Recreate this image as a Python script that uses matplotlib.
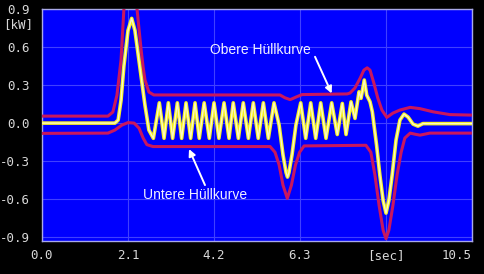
import matplotlib
matplotlib.use("Agg")
import matplotlib.pyplot as plt

# ---- data ----
sig_x = [0.0, 1.78, 1.86, 1.93, 2.0, 2.1, 2.19, 2.27, 2.39, 2.515, 2.61, 2.72,
         2.865, 2.98, 3.085, 3.19, 3.305, 3.41, 3.517, 3.63, 3.737, 3.84, 3.96, 4.085,
         4.20, 4.32, 4.445, 4.567, 4.67, 4.795, 4.915, 5.04, 5.16, 5.28, 5.405, 5.527, 5.665,
         5.79, 5.885, 5.96, 5.995, 6.03, 6.105, 6.2,
         6.318, 6.44, 6.562, 6.684, 6.806, 6.935, 7.074, 7.21, 7.333, 7.424,
         7.546, 7.643, 7.741, 7.79, 7.87, 7.93, 8.01, 8.066, 8.17,
         8.25, 8.33, 8.4, 8.47, 8.55, 8.645, 8.74, 8.84, 8.94, 9.06, 9.18, 9.3, 10.5]
sig_y = [0.0, 0.0, 0.024, 0.18, 0.45, 0.73, 0.826, 0.73, 0.44, 0.14, -0.055, -0.12,
         0.16, -0.12, 0.16, -0.12, 0.16, -0.12, 0.16, -0.12, 0.16, -0.12, 0.16, -0.12,
         0.16, -0.12, 0.16, -0.12, 0.16, -0.12, 0.16, -0.12, 0.16, -0.12, 0.16, -0.12, 0.16,
         -0.016, -0.25, -0.39, -0.426, -0.39, -0.25, -0.016,
         0.16, -0.12, 0.16, -0.12, 0.16, -0.12, 0.16, -0.09, 0.155, -0.09,
         0.168, 0.037, 0.247, 0.195, 0.34, 0.22, 0.168, 0.089, -0.174,
         -0.41, -0.61, -0.71, -0.61, -0.41, -0.134, 0.024, 0.071, 0.047, -0.008, -0.024, -0.004, -0.004]

upper_x = [0.0, 1.61, 1.73, 1.83, 1.93, 2.0, 2.16, 2.32, 2.42, 2.47, 2.515, 2.61, 2.73,
           5.81, 5.93, 6.06, 6.2, 6.35, 7.45, 7.52, 7.64, 7.77, 7.86, 7.94, 8.01, 8.1, 8.2,
           8.3, 8.42, 8.57, 8.74, 8.99, 9.23, 9.55, 9.96, 10.5]
upper_y = [0.055, 0.055, 0.087, 0.22, 0.5, 0.9, 1.08, 0.9, 0.58, 0.44, 0.34, 0.245, 0.222,
           0.222, 0.2, 0.185, 0.205, 0.225, 0.23, 0.237, 0.276, 0.355, 0.418, 0.436, 0.418, 0.32, 0.197,
           0.103, 0.045, 0.079, 0.103, 0.124, 0.114, 0.089, 0.067, 0.063]

lower_x = [0.0, 1.61, 1.78, 1.95, 2.1, 2.25, 2.37, 2.47, 2.56, 2.71,
           5.57, 5.69, 5.79, 5.885, 5.99, 6.09, 6.19, 6.29, 6.4,
           7.91, 8.03, 8.13, 8.23, 8.33, 8.4, 8.47, 8.57, 8.67, 8.77, 8.86, 8.99,
           9.1, 9.23, 9.47, 10.5]
lower_y = [-0.081, -0.079, -0.055, -0.016, 0.004, 0.0, -0.04, -0.118, -0.17, -0.185,
           -0.185, -0.23, -0.33, -0.49, -0.594, -0.49, -0.33, -0.23, -0.18,
           -0.175, -0.23, -0.41, -0.647, -0.845, -0.912, -0.845, -0.647, -0.41, -0.23, -0.118, -0.079,
           -0.087, -0.095, -0.079, -0.079]

x_ticks = [0.0, 2.1, 4.2, 6.3, 8.4, 10.5]
x_labels = ["0.0", "2.1", "4.2", "6.3", "[sec]", "10.5"]
y_ticks = [-0.9, -0.6, -0.3, 0.0, 0.3, 0.6, 0.9]
y_labels = ["-0.9", "-0.6", "-0.3", "0.0", "0.3", "0.6", "0.9"]

# ---- figure ----
fig = plt.figure(figsize=(4.85, 2.74), dpi=100, facecolor="black")
ax = fig.add_axes([42/485, 1-241/274, (472-42)/485, (241-9)/274])
ax.set_facecolor("#0000ff")

red = "#c8175e"
ax.plot(upper_x, upper_y, color=red, lw=2.2, solid_joinstyle="round", solid_capstyle="round", zorder=3)
ax.plot(lower_x, lower_y, color=red, lw=2.2, solid_joinstyle="round", solid_capstyle="round", zorder=3)
ax.plot(sig_x, sig_y, color="#f5f020", lw=2.6, solid_joinstyle="round", solid_capstyle="round", zorder=4)
ax.plot(sig_x, sig_y, color="#fbf8c8", lw=1.0, solid_joinstyle="round", solid_capstyle="round", zorder=5)

ax.set_xlim(0, 10.5)
ax.set_ylim(-0.93, 0.9)
ax.set_xticks(x_ticks)
ax.set_xticklabels(x_labels)
ax.set_yticks(y_ticks)
ax.set_yticklabels(y_labels)
ax.grid(True, color="#4040ff", lw=0.8)
ax.set_axisbelow(True)
for s in ax.spines.values():
    s.set_color("#a8a8e8")
    s.set_linewidth(1.0)

tick_color = "#d8d8d8"
ax.tick_params(axis="both", length=0, colors=tick_color, labelsize=9)
ax.tick_params(axis="y", pad=9)
ax.tick_params(axis="x", pad=6)
for lab in ax.get_xticklabels() + ax.get_yticklabels():
    lab.set_fontfamily("DejaVu Sans Mono")
ax.get_xticklabels()[-1].set_ha("right")

fig.text(33/485, 1-25/274, "[kW]", color=tick_color, fontsize=9, family="DejaVu Sans Mono",
         ha="right", va="center")

# annotations
ax.text(4.10, 0.576, "Obere Hüllkurve", color="#f0f0ff", fontsize=10, family="Liberation Sans",
        ha="left", va="center", zorder=6)
ax.annotate("", xy=(7.074, 0.234), xytext=(6.667, 0.523),
            arrowprops=dict(arrowstyle="-|>", color="white", lw=1.4, mutation_scale=10,
                            shrinkA=0, shrinkB=0), zorder=6)
ax.text(2.47, -0.568, "Untere Hüllkurve", color="#f0f0ff", fontsize=10, family="Liberation Sans",
        ha="left", va="center", zorder=6)
ax.annotate("", xy=(3.59, -0.205), xytext=(3.98, -0.489),
            arrowprops=dict(arrowstyle="-|>", color="white", lw=1.4, mutation_scale=10,
                            shrinkA=0, shrinkB=0), zorder=6)

fig.savefig("out.png", dpi=100, facecolor="black")
